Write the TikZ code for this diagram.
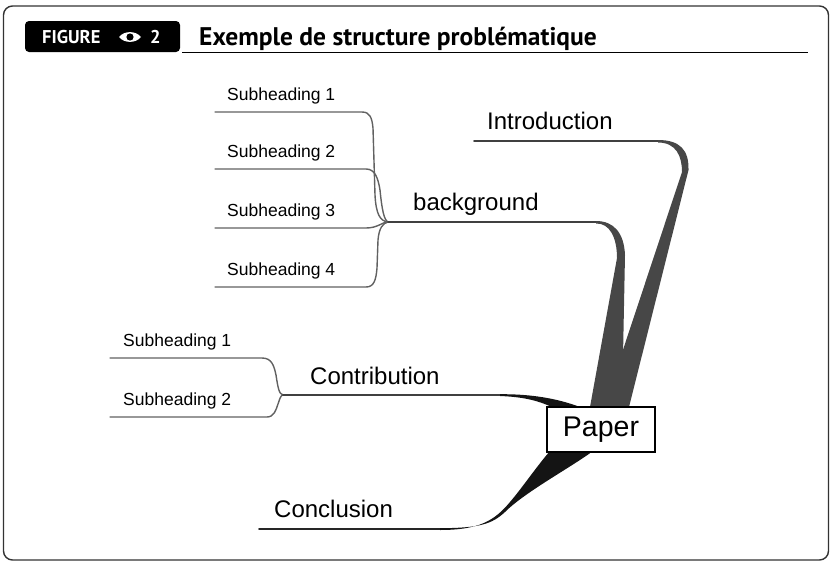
\documentclass[tikz,border=0pt]{standalone}
\usepackage{fontspec}
\setmainfont{Liberation Sans}
\newfontfamily\headfont{PT Sans}
\begin{document}
\begin{tikzpicture}[x=1pt,y=-1pt,
  subline/.style={draw=black!62, line width=1.4pt, line cap=round},
  mainline/.style={draw=black!75, line width=1.7pt, line cap=round},
  subtext/.style={anchor=base west, inner sep=0pt, font=\fontsize{17.5}{20}\selectfont},
  maintext/.style={anchor=base west, inner sep=0pt, font=\fontsize{24}{28}\selectfont},
  band/.style={fill=black!72, draw=none},
  darkband/.style={fill=black!92, draw=none}]
\useasboundingbox (0,0) rectangle (830,562);
% frame
\draw[black!80, line width=1.4pt, rounded corners=9pt] (3.5,6) rectangle (828.5,560);
% header
\node[fill=black, rounded corners=4pt, minimum width=155pt, minimum height=31pt, inner sep=0pt] (hbox) at (102.5,36.5) {};
\node[anchor=base west, inner sep=0pt, text=white, font=\headfont\bfseries\fontsize{18.5}{22}\selectfont] (hfig) at (42,43.5) {FIGURE};
\fill[white] (119,37) .. controls (124,30.5) and (136,30.5) .. (141,37) .. controls (136,43.5) and (124,43.5) .. (119,37) -- cycle;
\fill[black] (130,37) circle (3.6);
\node[anchor=base west, inner sep=0pt, text=white, font=\headfont\bfseries\fontsize{18.5}{22}\selectfont] (hnum) at (150,43.5) {2};
\node[anchor=base west, inner sep=0pt, font=\headfont\bfseries\fontsize{25.5}{30}\selectfont] (title) at (199,45) {Exemple de structure problématique};
\draw[black, line width=1.5pt] (182,52.5) -- (808,52.5);
% ---------- background ----------
\coordinate (bj) at (388,222);
\draw[subline] (215,112) -- (362,112) .. controls (370,112) and (372,118) .. (373,128) -- (375,195) .. controls (376,214) and (380,221) .. (bj);
\draw[subline] (215,169) -- (366,169) .. controls (375,169) and (378,178) .. (380,190) .. controls (382,210) and (384,220) .. (bj);
\draw[subline] (215,228) -- (366,228) .. controls (378,228) and (382,222) .. (bj);
\draw[subline] (215,287) -- (366,287) .. controls (374,287) and (376,280) .. (377,268) -- (378,240) .. controls (379,228) and (383,223) .. (bj);
\node[subtext] (bs1) at (227,100) {Subheading 1};
\node[subtext] (bs2) at (227,157) {Subheading 2};
\node[subtext] (bs3) at (227,216) {Subheading 3};
\node[subtext] (bs4) at (227,275) {Subheading 4};
\node[maintext] (bg) at (413,210) {background};
\draw[mainline] (bj) -- (598,222);
\fill[band] (596,221) .. controls (614,221) and (624,233) .. (625,255) -- (622,407) -- (590,407) -- (617,258) .. controls (617,238) and (610,223) .. (596,223.5) -- cycle;
% ---------- introduction ----------
\node[maintext] (intro) at (487,129) {Introduction};
\draw[mainline] (474,141) -- (660,141);
\fill[band] (658,140) .. controls (680,140) and (689,150) .. (688.5,170) -- (629,407) -- (604,407) -- (682,172) .. controls (682,156) and (676,142.5) .. (658,142.5) -- cycle;
% ---------- contribution ----------
\coordinate (cj) at (283,395);
\draw[subline] (110,358) -- (262,358) .. controls (272,358) and (274,366) .. (276,375) .. controls (278,388) and (279,394) .. (cj);
\draw[subline] (110,417) -- (267,417) .. controls (274,417) and (276,410) .. (278,404) .. controls (280,398) and (281,395) .. (cj);
\node[subtext] (cs1) at (123,346) {Subheading 1};
\node[subtext] (cs2) at (123,405) {Subheading 2};
\node[maintext] (contrib) at (310,384) {Contribution};
\draw[mainline] (cj) -- (505,395);
\fill[darkband] (500,394.2) .. controls (530,394) and (556,398) .. (580,407) -- (556,409) .. controls (540,401) and (525,397) .. (500,396) -- cycle;
% ---------- conclusion ----------
\node[maintext] (concl) at (274,517) {Conclusion};
\draw[mainline, draw=black!85] (259,529) -- (445,529);
\fill[darkband] (440,528.2) .. controls (480,528) and (492,524) .. (505,512) .. controls (525,492) and (570,468) .. (593,451) -- (550,451) .. controls (537,466) and (522,488) .. (510,502) .. controls (495,520) and (480,530) .. (440,530) -- cycle;
% ---------- paper ----------
\node[draw=black, line width=1.6pt, fill=white, minimum width=108pt, minimum height=45pt, inner sep=0pt, font=\fontsize{28.5}{32}\selectfont] (paper) at (601,429.5) {Paper};
\end{tikzpicture}
\end{document}
